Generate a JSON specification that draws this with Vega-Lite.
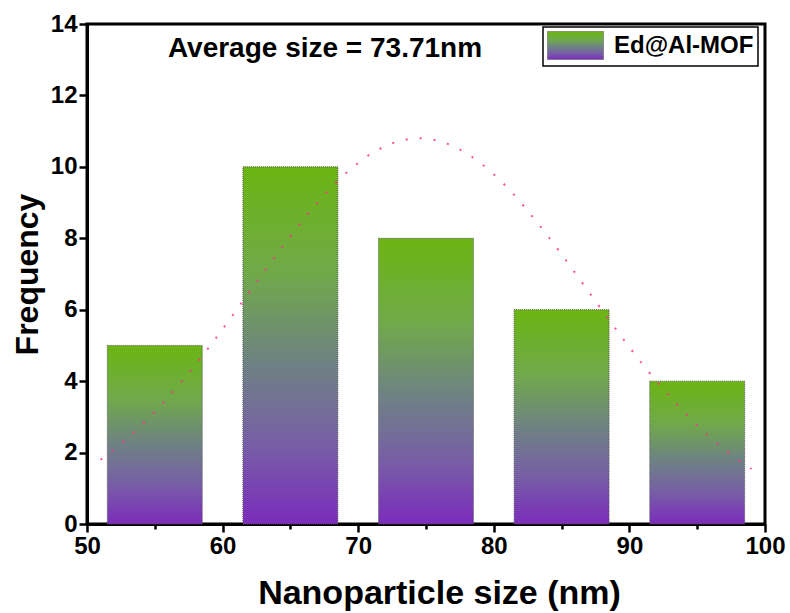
{
  "$schema": "https://vega.github.io/schema/vega-lite/v6.json",
  "width": 678,
  "height": 500,
  "autosize": {"type": "none"},
  "padding": {"left": 87, "top": 24, "right": 25, "bottom": 89},
  "background": "white",
  "config": {
    "view": {"stroke": "black", "strokeWidth": 3},
    "font": "Liberation Sans",
    "legend": {"strokeWidth": 1.5},
    "axis": {
      "grid": false,
      "domainColor": "black",
      "domainWidth": 3,
      "tickColor": "black",
      "tickWidth": 2.5,
      "labelFont": "Liberation Sans",
      "labelFontWeight": "bold",
      "labelFontSize": 24,
      "labelColor": "black",
      "titleFont": "Liberation Sans",
      "titleFontWeight": "bold",
      "titleFontSize": 32,
      "titleColor": "black"
    }
  },
  "datasets": {
    "bars": [
      {"start": 51.5, "end": 58.5, "count": 5, "series": "Ed@Al-MOF"},
      {"start": 61.5, "end": 68.5, "count": 10, "series": "Ed@Al-MOF"},
      {"start": 71.5, "end": 78.5, "count": 8, "series": "Ed@Al-MOF"},
      {"start": 81.5, "end": 88.5, "count": 6, "series": "Ed@Al-MOF"},
      {"start": 91.5, "end": 98.5, "count": 4, "series": "Ed@Al-MOF"}
    ],
    "curve": [
      {"size": 51, "freq": 1.80}, {"size": 53, "freq": 2.41}, {"size": 55, "freq": 3.14},
      {"size": 57, "freq": 4.00}, {"size": 59, "freq": 4.95}, {"size": 61, "freq": 5.98},
      {"size": 63, "freq": 7.03}, {"size": 65, "freq": 8.06}, {"size": 67, "freq": 9.00},
      {"size": 69, "freq": 9.79}, {"size": 71, "freq": 10.38}, {"size": 73, "freq": 10.72},
      {"size": 74.5, "freq": 10.80}, {"size": 75, "freq": 10.79}, {"size": 77, "freq": 10.58},
      {"size": 79, "freq": 10.11}, {"size": 81, "freq": 9.42}, {"size": 83, "freq": 8.54},
      {"size": 85, "freq": 7.55}, {"size": 87, "freq": 6.50}, {"size": 89, "freq": 5.46},
      {"size": 91, "freq": 4.46}, {"size": 93, "freq": 3.56}, {"size": 95, "freq": 2.76},
      {"size": 97, "freq": 2.09}, {"size": 99, "freq": 1.54}
    ],
    "note": [{"size": 67.55, "freq": 13.08, "label": "Average size = 73.71nm"}]
  },
  "layer": [
    {
      "data": {"name": "bars"},
      "mark": {
        "type": "bar",
        "strokeWidth": 1,
        "strokeDash": [1, 1],
        "color": {
          "gradient": "linear",
          "x1": 0, "y1": 0, "x2": 0, "y2": 1,
          "stops": [
            {"offset": 0, "color": "#6bb512"},
            {"offset": 0.3, "color": "#70a94a"},
            {"offset": 0.55, "color": "#6e8283"},
            {"offset": 0.78, "color": "#775ea6"},
            {"offset": 1, "color": "#7b2cbb"}
          ]
        }
      },
      "encoding": {
        "x": {
          "field": "start", "type": "quantitative",
          "scale": {"domain": [50, 100], "nice": false, "zero": false},
          "axis": {
            "title": "Nanoparticle size (nm)",
            "titleFontSize": 34,
            "titleX": 352,
            "values": [50, 55, 60, 65, 70, 75, 80, 85, 90, 95, 100],
            "labelExpr": "datum.value % 10 === 0 ? datum.label : ''",
            "tickSize": {"condition": {"test": "datum.value % 10 === 0", "value": 8}, "value": 5},
            "labelPadding": 2,
            "titlePadding": 18,
            "labelFlush": false
          }
        },
        "x2": {"field": "end"},
        "y": {
          "field": "count", "type": "quantitative",
          "scale": {"domain": [0, 14], "nice": false},
          "axis": {
            "title": "Frequency",
            "values": [0, 1, 2, 3, 4, 5, 6, 7, 8, 9, 10, 11, 12, 13, 14],
            "labelExpr": "datum.value % 2 === 0 ? datum.label : ''",
            "tickSize": {"condition": {"test": "datum.value % 2 === 0", "value": 8}, "value": 5},
            "labelPadding": 2,
            "titlePadding": 6,
            "labelFlush": false
          }
        },
        "y2": {"datum": 0},
        "stroke": {
          "field": "series", "type": "nominal",
          "scale": {"range": ["#555555"]},
          "legend": {
            "title": null,
            "orient": "none",
            "legendX": 456,
            "legendY": 3,
            "padding": 4,
            "strokeColor": "black",
            "fillColor": "white",
            "symbolType": "M-2,-1H2V1H-2Z",
            "symbolSize": 784,
            "symbolOffset": 14,
            "symbolStrokeWidth": 1,
            "symbolDash": [1, 1],
            "labelFont": "Liberation Sans",
            "labelFontWeight": "bold",
            "labelFontSize": 24,
            "labelColor": "black",
            "labelOffset": 24,
            "encode": {
              "symbols": {
                "update": {
                  "fill": {
                    "value": {
                      "gradient": "linear",
                      "x1": 0, "y1": 0, "x2": 0, "y2": 1,
                      "stops": [
                        {"offset": 0, "color": "#6bb512"},
                        {"offset": 0.3, "color": "#70a94a"},
                        {"offset": 0.55, "color": "#6e8283"},
                        {"offset": 0.78, "color": "#775ea6"},
                        {"offset": 1, "color": "#7b2cbb"}
                      ]
                    }
                  },
                  "fillOpacity": {"value": 1}
                }
              }
            }
          }
        }
      }
    },
    {
      "data": {"name": "curve"},
      "mark": {"type": "line", "color": "#ff2d8a", "strokeWidth": 2, "strokeDash": [2, 12], "interpolate": "monotone", "opacity": 0.85},
      "encoding": {
        "x": {"field": "size", "type": "quantitative"},
        "y": {"field": "freq", "type": "quantitative"}
      }
    },
    {
      "data": {"name": "note"},
      "mark": {"type": "text", "font": "Liberation Sans", "fontWeight": "bold", "fontSize": 28, "color": "black", "align": "center", "baseline": "alphabetic"},
      "encoding": {
        "x": {"field": "size", "type": "quantitative"},
        "y": {"field": "freq", "type": "quantitative"},
        "text": {"field": "label"}
      }
    }
  ]
}
